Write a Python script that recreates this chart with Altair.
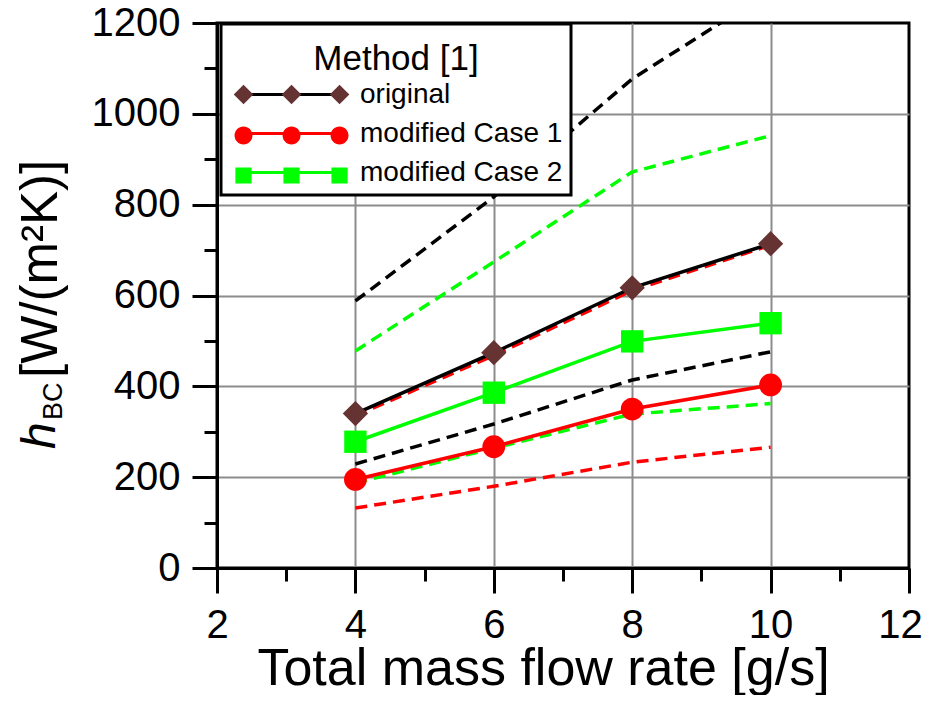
import altair as alt
import pandas as pd

# ---------------- data ----------------
x_vals = [4, 6, 8, 10]
series_names = ["original", "modified Case 1", "modified Case 2"]
h_original = [340, 474, 617, 714]
h_case1 = [195, 267, 350, 403]
h_case2 = [278, 386, 499, 539]

dash_black_upper = [588, 817, 1077, 1270]
dash_black_lower = [229, 317, 414, 476]
dash_green_upper = [478, 674, 872, 952]
dash_green_lower = [187, 264, 339, 362]
dash_red_upper = [335, 468, 611, 711]
dash_red_lower = [132, 180, 233, 266]

x_ticks = [2, 3, 4, 5, 6, 7, 8, 9, 10, 11, 12]
y_ticks = [0, 100, 200, 300, 400, 500, 600, 700, 800, 900, 1000, 1100, 1200]

line_colors = ["#000000", "#ff0000", "#00ff00"]
marker_colors = ["#663333", "#ff0000", "#00ff00"]
marker_shapes = ["diamond", "circle", "square"]
marker_sizes = [640, 520, 500]

FONT = "Liberation Sans"

# ---------------- tables ----------------
solid_df = pd.DataFrame({
    "x": x_vals * 3,
    "h": h_original + h_case1 + h_case2,
    "series": [s for s in series_names for _ in x_vals],
})
# separate key so that the marker legend is not merged with the line legend
legend_keys = [s + " " for s in series_names]
solid_df["series_leg"] = [k for k in legend_keys for _ in x_vals]


def dashed(upper, lower):
    return pd.DataFrame({
        "x": x_vals * 2,
        "h": upper + lower,
        "line": ["upper"] * len(x_vals) + ["lower"] * len(x_vals),
    })


# ---------------- axes ----------------
x_axis = alt.Axis(
    values=x_ticks, format="d",
    labelExpr="datum.value % 2 == 0 ? datum.label : ''",
    labelFlush=False, labelOverlap=False,
    labelFont=FONT, labelFontSize=40, labelColor="black", labelPadding=12,
    labelOffset={"condition": {"test": "datum.value == 12", "value": -9}, "value": 0},
    tickSize={"condition": {"test": "datum.value % 2 != 0", "value": 13}, "value": 25},
    tickWidth=3, tickColor="black",
    domainColor="black", domainWidth=3,
    grid=True, gridColor="#8c8c8c", gridWidth=2,
    gridOpacity={"condition": {"test": "datum.value % 2 != 0 || datum.value == 2 || datum.value == 12", "value": 0}, "value": 1},
    titleFont=FONT, titleFontSize=52, titleFontWeight="normal", titleColor="black",
    titleX=326, titleY=116, titleAlign="center", titleBaseline="alphabetic",
)
y_axis = alt.Axis(
    values=y_ticks, format="d",
    labelExpr="datum.value % 200 == 0 ? datum.label : ''",
    labelFlush=False, labelOverlap=False,
    labelFont=FONT, labelFontSize=40, labelColor="black", labelPadding=12,
    tickSize={"condition": {"test": "datum.value % 200 != 0", "value": 13}, "value": 25},
    tickWidth=3, tickColor="black",
    domainColor="black", domainWidth=3,
    grid=True, gridColor="#8c8c8c", gridWidth=2,
    gridOpacity={"condition": {"test": "datum.value % 200 != 0 || datum.value == 0 || datum.value == 1200", "value": 0}, "value": 1},
)

X = alt.X("x:Q", scale=alt.Scale(domain=[2, 12], nice=False, zero=False), axis=x_axis,
          title="Total mass flow rate [g/s]")
Y = alt.Y("h:Q", scale=alt.Scale(domain=[0, 1200], nice=False), axis=y_axis, title=None)

# ---------------- legend symbols (custom paths, unit = sqrt(size)/2 px) ----------------
cx = [-0.07, 3.36, 6.79]
line_path = f"M{cx[0]},0L{cx[2]},0"


def diamonds(d=0.7):
    return "".join(f"M{c},{-d}L{c + d},0L{c},{d}L{c - d},0Z" for c in cx)


def circles(r=0.64):
    return "".join(f"M{c - r},0A{r},{r} 0 1,0 {c + r},0A{r},{r} 0 1,0 {c - r},0Z" for c in cx)


def squares(s=0.58):
    return "".join(f"M{c - s},{-s}L{c + s},{-s}L{c + s},{s}L{c - s},{s}Z" for c in cx)


legend_common = dict(
    orient="none", legendX=4, legendY=1,
    symbolSize=784, symbolStrokeWidth=3,
    labelOffset=100, labelLimit=400, padding=8, rowPadding=9,
    titleFont=FONT, titleFontSize=35, titleFontWeight="normal", titleColor="black",
    titleAnchor="middle", titleAlign="center", titlePadding=12,
    titleBaseline="line-top", titleLineHeight=55,
    labelFont=FONT, labelFontSize=28, labelColor="black",
)

legend_lines = alt.Legend(title="Method [1]", symbolType=line_path, strokeColor="black",
                          fillColor="white", zindex=1, **legend_common)
# marker overlay legend: same geometry, no visible text
legend_marks = alt.Legend(title=" ", labelExpr="''", strokeColor="transparent",
                          fillColor="transparent", symbolStrokeColor="transparent",
                          zindex=2, **legend_common)

# ---------------- layers ----------------
dash_layers = []
for upper, lower, col in [
    (dash_black_upper, dash_black_lower, "#000000"),
    (dash_green_upper, dash_green_lower, "#00ff00"),
    (dash_red_upper, dash_red_lower, "#ff0000"),
]:
    dash_layers.append(
        alt.Chart(dashed(upper, lower)).mark_line(
            color=col, strokeWidth=3.5, strokeDash=[12, 7], clip=True
        ).encode(x=X, y=Y, detail="line:N")
    )

solid_lines = alt.Chart(solid_df).mark_line(strokeWidth=3.5).encode(
    x=X, y=Y,
    stroke=alt.Stroke("series:N", scale=alt.Scale(domain=series_names, range=line_colors),
                      legend=legend_lines),
)

point_layers = []
for name, col, shp, sz in zip(series_names, marker_colors, marker_shapes, marker_sizes):
    point_layers.append(
        alt.Chart(solid_df).transform_filter(alt.datum.series == name).mark_point(
            shape=shp, filled=True, color=col, size=sz, opacity=1, strokeWidth=0
        ).encode(x=X, y=Y)
    )

legend_layer = alt.Chart(solid_df).transform_filter("false").mark_point(
    filled=True, opacity=1, size=0
).encode(
    x=X, y=Y,
    fill=alt.Fill("series_leg:N", scale=alt.Scale(domain=legend_keys, range=marker_colors),
                  legend=legend_marks),
    shape=alt.Shape("series_leg:N",
                    scale=alt.Scale(domain=legend_keys, range=[diamonds(), circles(), squares()]),
                    legend=legend_marks),
)

one = pd.DataFrame({"a": [0]})
title_h = alt.Chart(one).mark_text(
    text="h", angle=270, align="left", baseline="alphabetic",
    font=FONT, fontSize=48, fontStyle="italic", color="black"
).encode(x=alt.value(-162), y=alt.value(426))
title_bc = alt.Chart(one).mark_text(
    text="BC", angle=270, align="left", baseline="alphabetic",
    font=FONT, fontSize=27, color="black"
).encode(x=alt.value(-155), y=alt.value(397))
title_rest = alt.Chart(one).mark_text(
    text="[W/(m²K)]", angle=270, align="left", baseline="alphabetic",
    font=FONT, fontSize=51, color="black"
).encode(x=alt.value(-160), y=alt.value(355))

chart = alt.layer(
    *dash_layers, solid_lines, *point_layers, legend_layer, title_h, title_bc, title_rest
).properties(
    width=692, height=545,
    autosize=alt.AutoSizeParams(type="none"),
    padding={"left": 209, "top": 15, "right": 13, "bottom": 127},
).configure_view(
    stroke="black", strokeWidth=3
).configure_legend(
    strokeWidth=3
)

chart.save("out.html", embed_options={"renderer": "svg", "actions": False})
